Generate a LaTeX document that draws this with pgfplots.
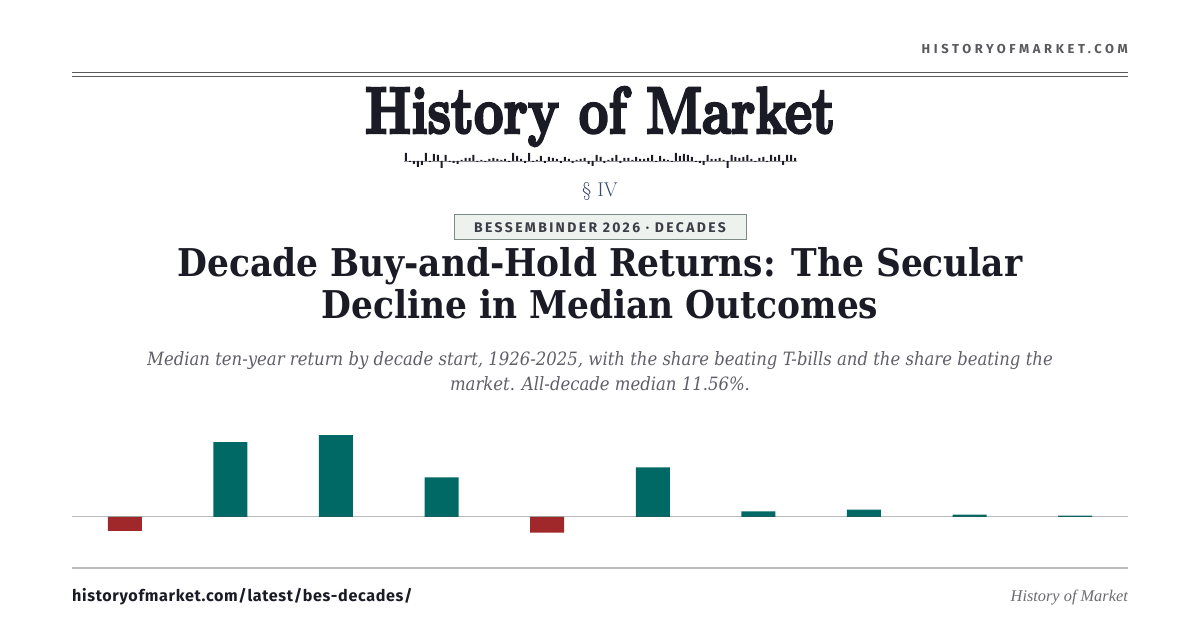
\documentclass[border=0pt]{standalone}
\usepackage{pgfplots}
\usepackage{pgfplotstable}
\pgfplotsset{compat=1.18}
\usepackage{fontspec}
\usepackage{graphicx}
\newfontfamily\kickfont[LetterSpace=28]{Fira Sans}
\newfontfamily\tagfont[LetterSpace=17]{Fira Sans}
\newfontfamily\urlfont[LetterSpace=4]{Fira Sans}
\newfontfamily\mastfont[FakeBold=4]{Latin Modern Roman}
\newfontfamily\headfont{DejaVu Serif Condensed}
\newfontfamily\deckfont{DejaVu Serif Condensed}
\newfontfamily\footfont{Liberation Serif}
\definecolor{ink}{HTML}{1B1B26}
\definecolor{rule}{HTML}{5A5A5E}
\definecolor{softrule}{HTML}{B9BBBC}
\definecolor{pos}{HTML}{006966}
\definecolor{neg}{HTML}{A0282A}
\definecolor{tagbg}{HTML}{EEF2EF}
\definecolor{tagedge}{HTML}{7D8985}
\definecolor{sect}{HTML}{3C4A6B}

% median ten-year buy-and-hold return by decade start (%)
\pgfplotstableread{
x ret
0 -25.0
1 133.8
2 146.3
3 70.8
4 -27.9
5 88.7
6 10.1
7 13.0
8 4.1
9 2.3
}\decades

\begin{document}
\begin{tikzpicture}
\begin{scope}[x=1bp,y=1bp]
\fill[white] (0,0) rectangle (1200,630);

% masthead
\node[anchor=base east,inner sep=0,text=rule,font=\kickfont\bfseries\fontsize{13}{13}\selectfont] at (1128,576) {HISTORYOFMARKET.COM};
\draw[rule,line width=1.6bp] (72,557.5) -- (1128,557.5);
\draw[rule,line width=1.2bp] (72,553.5) -- (1128,553.5);
\node[anchor=base,inner sep=0,text=ink] at (600,497) {\resizebox{470bp}{46bp}{\mastfont\bfseries History of Market}};

\node[anchor=base,inner sep=0,text=sect,font=\fontsize{20}{20}\selectfont] at (600,433) {\S\ IV};

% tag
\node[draw=tagedge,fill=tagbg,line width=1bp,minimum width=292bp,minimum height=25bp,inner sep=0,
  text=ink!85,font=\tagfont\bfseries\fontsize{14}{14}\selectfont] at (600,402.5) {BESSEMBINDER 2026 · DECADES};

% headline
\node[anchor=base,inner sep=0,text=ink,font=\headfont\bfseries\fontsize{38.4}{38.4}\selectfont] at (600,353) {Decade Buy-and-Hold Returns: The Secular};
\node[anchor=base,inner sep=0,text=ink,font=\headfont\bfseries\fontsize{38.4}{38.4}\selectfont] at (600,311) {Decline in Median Outcomes};

% deck
\node[anchor=base,inner sep=0,text=ink!70,font=\deckfont\itshape\fontsize{18.4}{18.4}\selectfont] at (600,264) {Median ten-year return by decade start, 1926-2025, with the share beating T-bills and the share beating the};
\node[anchor=base,inner sep=0,text=ink!70,font=\deckfont\itshape\fontsize{18.4}{18.4}\selectfont] at (600,239) {market. All-decade median 11.56\%.};

% footer
\draw[softrule,line width=1.6bp] (72,62) -- (1128,62);
\node[anchor=base west,inner sep=0,text=ink,font=\urlfont\bfseries\fontsize{16.2}{16.2}\selectfont] at (72,28) {historyofmarket.com/latest/bes-decades/};
\node[anchor=base east,inner sep=0,text=ink!65,font=\footfont\itshape\fontsize{16.4}{16.4}\selectfont] at (1128,28) {History of Market};
\end{scope}

% sparkline of yearly returns
\begin{axis}[
  at={(404bp,460bp)}, anchor=south west,
  scale only axis, width=393bp, height=18bp,
  xmin=-0.5, xmax=98.5, ymin=-9, ymax=9,
  axis line style={draw=none}, ticks=none,
  clip=false,
]
\draw[softrule!80!black,line width=0.8bp] (axis cs:-0.5,0) -- (axis cs:98.5,0);
\addplot[ybar, bar width=2bp, fill=ink, draw=none, bar shift=0pt] coordinates {
(0,8)(1,-1)(2,-3)(3,-6)(4,-4)(5,8)(6,-1)(7,7)(8,6)(9,-7)
(10,6)(11,-1)(12,-2)(13,-3)(14,1)(15,3)(16,3)(17,6)(18,-1)(19,1)
(20,-1)(21,2)(22,3)(23,2)(24,1)(25,2)(26,-1)(27,8)(28,5)(29,2)
(30,-2)(31,8)(32,-1)(33,1)(34,5)(35,-2)(36,4)(37,3)(38,2)(39,-2)
(40,4)(41,2)(42,-2)(43,1)(44,2)(45,3)(46,-3)(47,-5)(48,6)(49,4)
(50,-2)(51,1)(52,3)(53,6)(54,-2)(55,3)(56,3)(57,1)(58,4)(59,2)
(60,2)(61,3)(62,6)(63,-1)(64,5)(65,2)(66,1)(67,-1)(68,8)(69,5)
(70,7)(71,6)(72,4)(73,-1)(74,-2)(75,-4)(76,6)(77,2)(78,2)(79,3)
(80,1)(81,-7)(82,6)(83,4)(84,3)(85,4)(86,6)(87,2)(88,-1)(89,3)
(90,4)(91,-1)(92,6)(93,4)(94,6)(95,-4)(96,6)(97,6)(98,3)
};
\end{axis}

% chart
\begin{axis}[
  at={(72bp,70bp)}, anchor=south west,
  scale only axis, width=1056bp, height=135bp,
  xmin=-0.5, xmax=9.5, ymin=-76.8, ymax=164.3,
  axis line style={draw=none}, ticks=none,
  clip=false,
]
\draw[softrule,line width=1bp] (axis cs:-0.5,0) -- (axis cs:9.5,0);
\addplot[ybar, bar width=34bp, bar shift=0pt, fill=pos, draw=none]
  table[x=x, y expr={\thisrow{ret}>0 ? \thisrow{ret} : 0}] {\decades};
\addplot[ybar, bar width=34bp, bar shift=0pt, fill=neg, draw=none]
  table[x=x, y expr={\thisrow{ret}<0 ? \thisrow{ret} : 0}] {\decades};
\end{axis}
\end{tikzpicture}
\end{document}
